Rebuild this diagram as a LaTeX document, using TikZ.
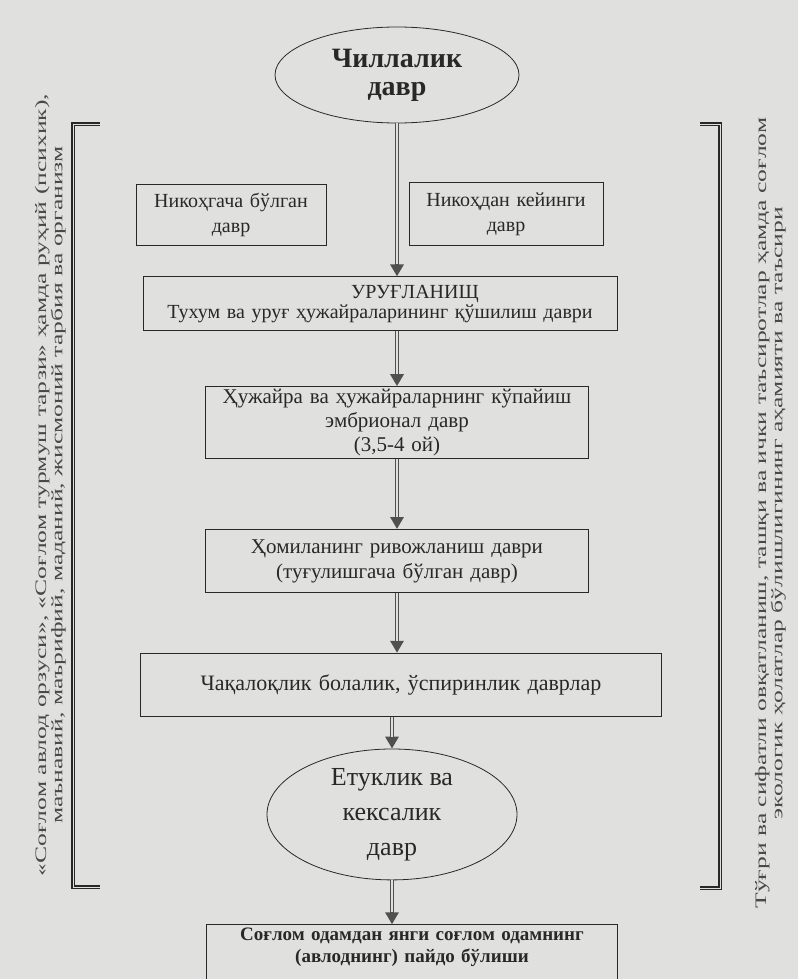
\documentclass[tikz,border=0pt]{standalone}
\usepackage{fontspec}
\setmainfont{Liberation Serif}
\usepackage{graphicx}
\usepackage{tikz}
\usetikzlibrary{arrows.meta,positioning,shapes.geometric}
\usepackage{xcolor}
\definecolor{paper}{RGB}{224,224,222}
\definecolor{ink}{RGB}{40,40,40}
\definecolor{arrgray}{RGB}{80,80,80}
\newcommand{\stretchnote}[2]{\scalebox{1.6}[1]{\begin{tabular}{@{}c@{}}#1\\#2\end{tabular}}}

\begin{document}
\begin{tikzpicture}[x=1pt,y=1pt,text=ink]
\tikzset{
  stage/.style={draw=ink,line width=0.8pt,align=center,inner sep=0pt,font=\fontsize{21}{25}\selectfont},
  oval/.style={draw=ink,line width=0.8pt,ellipse,align=center,inner sep=0pt},
  arr/.style={-{Triangle[length=12pt,width=13pt]},line width=3.6pt,draw=arrgray,
    postaction={draw=paper,line width=1.1pt,arrows=-,shorten >=12pt}},
  brak/.style={line width=1.4pt,double=paper,double distance=0.8pt,draw=ink},
  side/.style={rotate=90,inner sep=0pt,text=ink!85,font=\fontsize{16}{16}\selectfont}
}
\fill[paper] (0,0) rectangle (798,-979);
\useasboundingbox (0,0) rectangle (798,-979);
\node(chil)[oval,minimum width=244pt,minimum height=96pt,font=\bfseries\fontsize{28}{32}\selectfont] at (397,-75) {\raisebox{-4pt}{Чиллалик}\\давр};
\node(before)[stage,text width=190pt,minimum height=61pt,font=\fontsize{20}{25}\selectfont] at (231,-215) {Никоҳгача бўлган\\давр};
\node(after)[stage,text width=194pt,minimum height=63pt,font=\fontsize{20}{25}\selectfont] at (506,-214) {Никоҳдан кейинги\\давр};
\node(urug)[stage,text width=474pt,minimum height=54pt,below=153pt of chil,xshift=-17pt,font=\fontsize{20}{20}\selectfont]{\hspace*{70pt}УРУҒЛАНИЩ\\Тухум ва уруғ ҳужайраларининг қўшилиш даври};
\node(hujayra)[stage,text width=383pt,minimum height=72pt,below=55pt of urug,xshift=17pt,font=\fontsize{21}{24}\selectfont]{Ҳужайра ва ҳужайраларнинг кўпайиш\\эмбрионал давр\\(3,5-4 ой)};
\node(homila)[stage,text width=383pt,minimum height=63pt,below=70pt of hujayra]{Ҳомиланинг ривожланиш даври\\(туғулишгача бўлган давр)};
\node(chaqaloq)[stage,text width=521pt,minimum height=63pt,below=60pt of homila,xshift=4pt,font=\fontsize{22}{25}\selectfont]{Чақалоқлик болалик, ўспиринлик даврлар};
\node(etuk)[oval,minimum width=250pt,minimum height=125pt,below=32pt of chaqaloq,xshift=-9pt,font=\fontsize{26}{35}\selectfont]{Етуклик ва\\кексалик\\давр};
\node(soglom)[stage,text width=411pt,minimum height=64pt,inner ysep=3pt,below=44pt of etuk,xshift=20pt,font=\bfseries\fontsize{19}{22}\selectfont]{Соғлом одамдан янги соғлом одамнинг\\(авлоднинг) пайдо бўлиши\\[12pt]\strut};
% side notes
\node(leftnote)[side] at (51,-485) {\stretchnote{«Соғлом авлод орзуси», «Соғлом турмуш тарзи» ҳамда руҳий (психик),}{маънавий, маърифий, маданий, жисмоний тарбия ва организм}};
\node(rightnote)[side] at (771,-513) {\stretchnote{Тўғри ва сифатли овқатланиш, ташқи ва ички таъсиротлар ҳамда соғлом}{экологик ҳолатлар бўлишлигининг аҳамияти ва таъсири}};
\draw[brak] (100,-124) -- (73,-124) -- (73,-887) -- (100,-887);
\draw[brak] (700,-124) -- (720,-124) -- (720,-888) -- (700,-888);
\draw[arr](chil.south)--(chil.south |- urug.north);
\draw[arr](urug.south -| hujayra)--(hujayra.north);
\draw[arr](hujayra.south)--(homila.north);
\draw[arr](homila.south)--(homila.south |- chaqaloq.north);
\draw[arr](chaqaloq.south -| etuk)--(etuk.north);
\draw[arr](etuk.south)--(etuk.south |- soglom.north);
\end{tikzpicture}
\end{document}
